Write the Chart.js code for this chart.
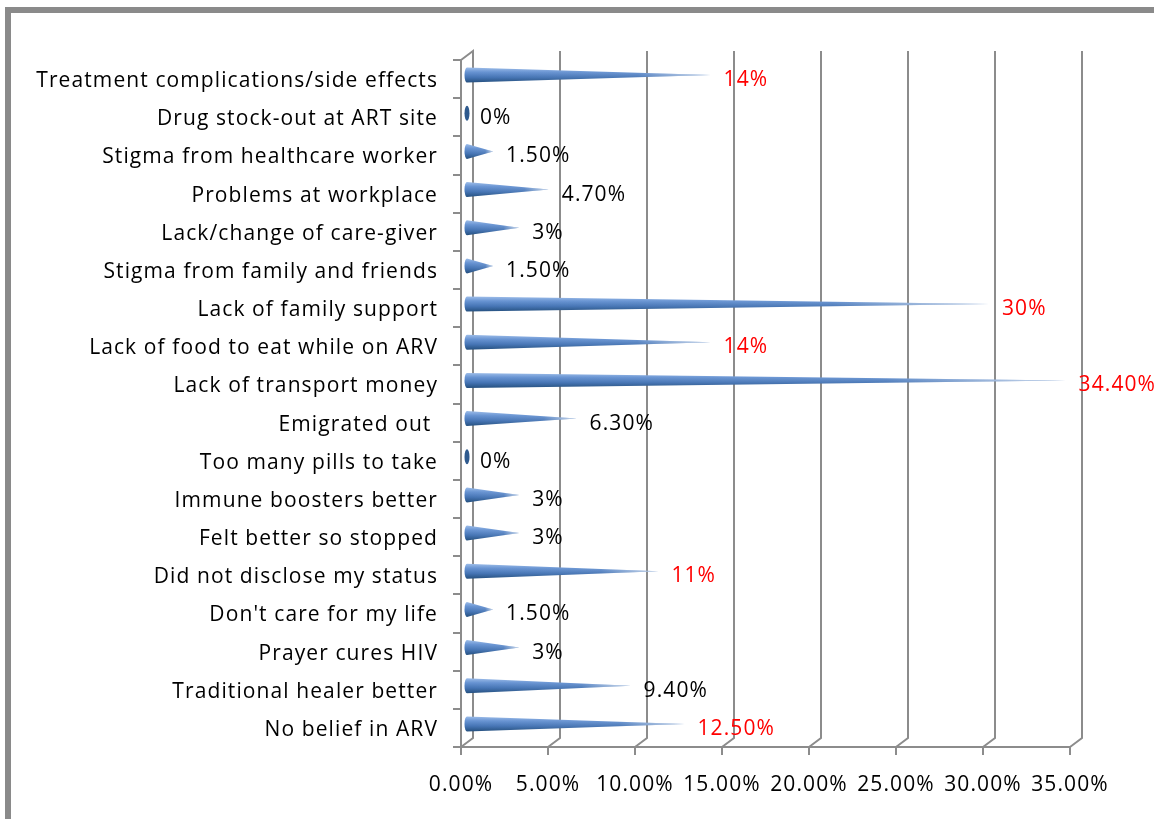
<!DOCTYPE html>
<html>
<head>
<meta charset="utf-8">
<script src="https://cdn.jsdelivr.net/npm/chart.js@4.4.1/dist/chart.umd.min.js"></script>
<style>
  html, body { margin: 0; padding: 0; background: #fff; overflow: hidden; }
  #frame { position: absolute; left: 5px; top: 7px; width: 1300px; height: 1000px; border: 6px solid #8a8a8a; box-sizing: border-box; }
  #c { position: absolute; left: 0; top: 0; }
</style>
</head>
<body>
<div id="frame"></div>
<canvas id="c" width="1154" height="819"></canvas>
<script>
const categories = [
  "Treatment complications/side effects",
  "Drug stock-out at ART site",
  "Stigma from healthcare worker",
  "Problems at workplace",
  "Lack/change of care-giver",
  "Stigma from family and friends",
  "Lack of family support",
  "Lack of food to eat while on ARV",
  "Lack of transport money",
  "Emigrated out ",
  "Too many pills to take",
  "Immune boosters better",
  "Felt better so stopped",
  "Did not disclose my status",
  "Don't care for my life",
  "Prayer cures HIV",
  "Traditional healer better",
  "No belief in ARV"
];
const values = [14, 0, 1.5, 4.7, 3, 1.5, 30, 14, 34.4, 6.3, 0, 3, 3, 11, 1.5, 3, 9.4, 12.5];
const valueLabels = ["14%", "0%", "1.50%", "4.70%", "3%", "1.50%", "30%", "14%", "34.40%", "6.30%", "0%", "3%", "3%", "11%", "1.50%", "3%", "9.40%", "12.50%"];
const highlighted = [true, false, false, false, false, false, true, true, true, false, false, false, false, true, false, false, false, true];
const xTickMin = 0, xTickMax = 35, xTickStep = 5;

const FONT = '"Open Sans", "Liberation Sans", sans-serif';
const FSIZE = 21;
const SPACING = '1.1px';
const GRID = '#8c8c8c';
const DX = 12, DY = -9;

const spacingPlugin = {
  id: 'spacing',
  beforeInit(chart) { chart.ctx.letterSpacing = SPACING; },
  beforeUpdate(chart) { chart.ctx.letterSpacing = SPACING; },
  beforeLayout(chart) { chart.ctx.letterSpacing = SPACING; },
  beforeDraw(chart) { chart.ctx.letterSpacing = SPACING; }
};

const wallPlugin = {
  id: 'wall',
  beforeDatasetsDraw(chart) {
    const { ctx, chartArea: a, scales: { x } } = chart;
    ctx.save();
    ctx.strokeStyle = GRID;
    ctx.lineWidth = 2;
    for (let v = xTickMin; v <= xTickMax + 1e-9; v += xTickStep) {
      const px = x.getPixelForValue(v);
      ctx.beginPath();
      ctx.moveTo(px, a.bottom);
      ctx.lineTo(px + DX, a.bottom + DY);
      ctx.lineTo(px + DX, a.top + DY);
      if (v === xTickMin) ctx.lineTo(px, a.top);
      ctx.stroke();
    }
    ctx.restore();
  }
};

const conePlugin = {
  id: 'cones',
  afterDatasetsDraw(chart) {
    const { ctx } = chart;
    const meta = chart.getDatasetMeta(0);
    ctx.save();
    meta.data.forEach((el, i) => {
      const cy = el.y - 4;
      const h = 7.5;
      const bx = el.base + 5;
      const tx = el.x + 6;
      const rx = 2.5;
      const g = ctx.createLinearGradient(0, cy - h, 0, cy + h);
      g.addColorStop(0, '#9dbde9');
      g.addColorStop(0.3, '#6793d2');
      g.addColorStop(0.65, '#4574b4');
      g.addColorStop(1, '#25507f');
      if (values[i] <= 0) {
        ctx.beginPath();
        ctx.ellipse(bx + 1, cy, rx, h, 0, 0, Math.PI * 2);
        ctx.fillStyle = '#2f5a8e';
        ctx.fill();
        return;
      }
      ctx.beginPath();
      ctx.moveTo(tx, cy);
      ctx.lineTo(bx, cy - h);
      ctx.ellipse(bx, cy, rx, h, 0, -Math.PI / 2, Math.PI / 2, true);
      ctx.closePath();
      ctx.fillStyle = g;
      ctx.fill();
      const f = ctx.createLinearGradient(bx, 0, tx, 0);
      f.addColorStop(0, 'rgba(255,255,255,0)');
      f.addColorStop(0.7, 'rgba(255,255,255,0.05)');
      f.addColorStop(1, 'rgba(255,255,255,0.7)');
      ctx.fillStyle = f;
      ctx.fill();
    });
    ctx.letterSpacing = SPACING;
    ctx.font = FSIZE + 'px ' + FONT;
    ctx.textAlign = 'left';
    ctx.textBaseline = 'middle';
    meta.data.forEach((el, i) => {
      ctx.fillStyle = highlighted[i] ? '#ff0000' : '#000000';
      ctx.fillText(valueLabels[i], el.x + 19, el.y + 1);
    });
    ctx.restore();
  }
};

new Chart(document.getElementById('c'), {
  type: 'bar',
  data: {
    labels: categories,
    datasets: [{
      data: values,
      backgroundColor: 'rgba(0,0,0,0)',
      borderWidth: 0,
      categoryPercentage: 0.6,
      barPercentage: 1
    }]
  },
  options: {
    indexAxis: 'y',
    responsive: false,
    animation: false,
    events: [],
    layout: { padding: { top: 60, right: 84, left: 0, bottom: 0 } },
    plugins: { legend: { display: false }, tooltip: { enabled: false } },
    scales: {
      x: {
        min: xTickMin,
        max: xTickMax,
        afterFit(s) { s.height = 72; },
        ticks: {
          stepSize: xTickStep,
          color: '#000',
          padding: 17,
          maxRotation: 0,
          autoSkip: false,
          font: { family: FONT, size: FSIZE },
          callback: v => Number(v).toFixed(2) + '%'
        },
        grid: { drawOnChartArea: false, drawTicks: true, tickLength: 8, color: GRID, lineWidth: 2 },
        border: { display: true, color: GRID, width: 2 }
      },
      y: {
        afterFit(s) { s.width = 461; },
        ticks: { color: '#000', padding: 15, labelOffset: 2, autoSkip: false, font: { family: FONT, size: FSIZE } },
        grid: { drawOnChartArea: false, drawTicks: true, tickLength: 8, color: GRID, lineWidth: 2, offset: true },
        border: { display: true, color: GRID, width: 2 }
      }
    }
  },
  plugins: [spacingPlugin, wallPlugin, conePlugin]
});
</script>
</body>
</html>
